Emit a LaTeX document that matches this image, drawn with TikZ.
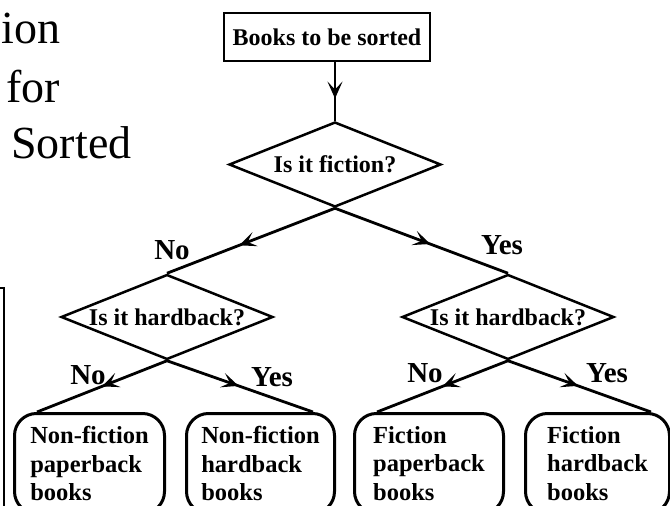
\documentclass[tikz,border=0pt]{standalone}
\usepackage{fontspec}
\setmainfont{Liberation Serif}
\usetikzlibrary{shapes.geometric,arrows.meta,decorations.markings}

\tikzset{every picture/.style={line width=2.8pt}}
\tikzset{question/.style={diamond, draw, line width=2.5pt, shape aspect=2.5, inner sep=0pt,
    minimum width=212pt, minimum height=85pt, font=\bfseries\fontsize{24}{28}\selectfont}}
\tikzset{startbox/.style={rectangle, draw, minimum width=206pt, minimum height=48pt,
    inner sep=0pt, font=\bfseries\fontsize{24}{28}\selectfont}}
\tikzset{leafbox/.style={rectangle, draw, rounded corners=22pt, line width=3pt, minimum height=100pt,
    inner sep=0pt, align=left, anchor=north west, font=\bfseries\fontsize{24.5}{28.5}\selectfont}}
\tikzset{answer/.style={inner sep=0pt, font=\bfseries\fontsize{29}{32}\selectfont}}
\tikzset{fragment/.style={inner sep=0pt, anchor=base west, font=\fontsize{46}{50}\selectfont}}
\tikzset{mid arrow/.style={postaction={decorate}, decoration={markings,
    mark=at position #1 with {\arrow{Stealth[length=17pt,width=15pt,inset=8pt]}}}},
    mid arrow/.default=0.55}

\begin{document}
\begin{tikzpicture}[x=1pt,y=-1pt]
    \useasboundingbox (0,0) rectangle (670,506);
    \clip (0,0) rectangle (670,506);

    % cut-off text and frame from the next column
    \node[fragment] (frgA) at (0,43) {ion};
    \node[fragment] (frgB) at (5,102) {for};
    \node[fragment] (frgC) at (10,158) {Sorted};
    \draw (0,288) -- (4,288) -- (4,512);

    % questions
    \node[startbox] (start) at (327,37) {Books to be sorted};
    \node[question] (fic) at (335,164.5) {Is it fiction?};
    \node[question] (hardL) at (167,317) {Is it hardback?};
    \node[question] (hardR) at (508,317) {Is it hardback?};

    % leaves
    \node[leafbox, minimum width=150pt] (leafA) at (13,412) {Non-fiction\\paperback\\books};
    \node[leafbox, minimum width=148pt] (leafB) at (185,412) {Non-fiction\\hardback\\books};
    \node[leafbox, minimum width=149pt] (leafC) at (353,412) {Fiction\\paperback\\books};
    \node[leafbox, minimum width=144pt] (leafD) at (524,412) {Fiction\\hardback\\books};

    % connectors
    \draw[mid arrow=0.62] (start.south -| fic.north) -- (fic.north);
    \draw[mid arrow=0.57] (fic.south) -- (hardL.north);
    \draw[mid arrow=0.55] (fic.south) -- (hardR.north);
    \draw[mid arrow=0.5] (hardL.south) -- ([xshift=24pt]leafA.north west);
    \draw[mid arrow=0.49] (hardL.south) -- ([xshift=-23pt]leafB.north east);
    \draw[mid arrow=0.5] (hardR.south) -- ([xshift=24pt]leafC.north west);
    \draw[mid arrow=0.49] (hardR.south) -- ([xshift=-20pt]leafD.north east);

    % answers
    \node[answer] (noA) at (172,250) {No};
    \node[answer] (yesA) at (502,245) {Yes};
    \node[answer] (noB) at (88,375) {No};
    \node[answer] (yesB) at (272,377) {Yes};
    \node[answer] (noC) at (425,373) {No};
    \node[answer] (yesC) at (607,373) {Yes};
\end{tikzpicture}
\end{document}
